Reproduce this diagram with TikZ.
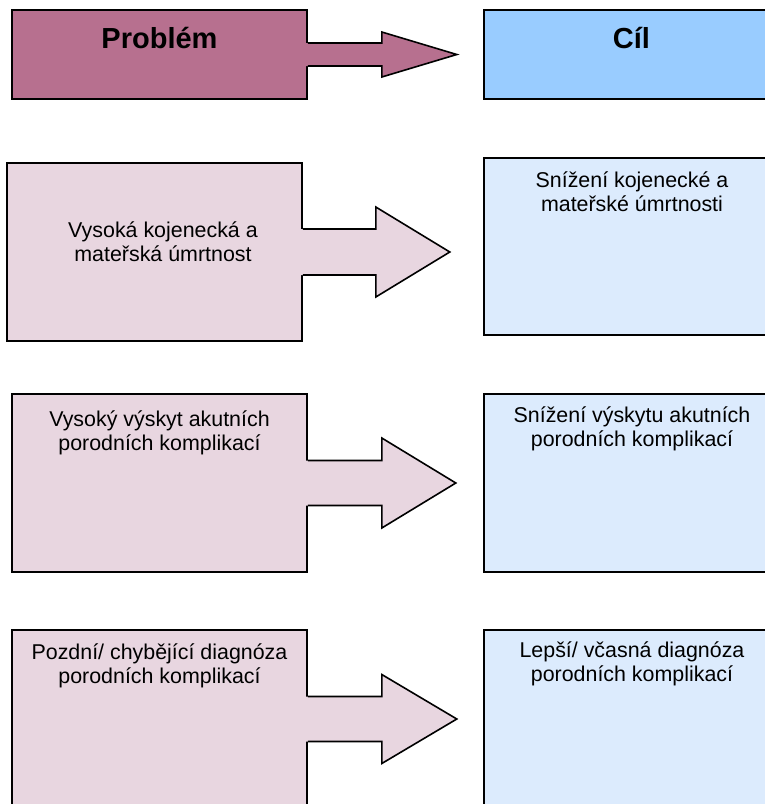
\documentclass[tikz,border=0pt]{standalone}
\usepackage{fontspec}
\setmainfont{Liberation Sans}
\usetikzlibrary{calc}
\definecolor{probhead}{RGB}{183,112,143}
\definecolor{probbody}{RGB}{232,214,224}
\definecolor{goalhead}{RGB}{153,204,255}
\definecolor{goalbody}{RGB}{220,235,253}
\newcommand{\blockarr}[6]{%
  \fill[#2] ($(#1.east)+(-2,-#3)$) -- ++(#5+2,0) -- ++(0,#3-#4) -- ($(#1.east)+(#5+#6,0)$) -- ($(#1.east)+(#5,#4)$) -- ++(0,#3-#4) -- ($(#1.east)+(-2,#3)$) -- cycle;
  \draw[arrline] ($(#1.east)+(0,-#3)$) -- ++(#5,0) -- ++(0,#3-#4) -- ($(#1.east)+(#5+#6,0)$) -- ($(#1.east)+(#5,#4)$) -- ++(0,#3-#4) -- ($(#1.east)+(0,#3)$);
}
\begin{document}
\begin{tikzpicture}[x=1pt,y=-1pt,
  box/.style={draw=black, line width=1.6pt, rectangle, inner sep=0pt, minimum width=295pt},
  arrline/.style={draw=black, line width=1.6pt, line join=miter},
  txt/.style={font=\fontsize{21.4}{24}\selectfont, align=center, anchor=base, inner sep=0pt},
  headtxt/.style={font=\bfseries\fontsize{29}{34}\selectfont, anchor=base, inner sep=0pt}]
\useasboundingbox (0,0) rectangle (765,804);
\clip (0,0) rectangle (765,804);
% boxes
\node[box, fill=probhead, minimum height=89pt] (hp) at (159.5,54.5) {};
\node[box, fill=goalhead, minimum height=89pt] (hc) at (631.5,54.5) {};
\node[box, fill=probbody, minimum height=178pt] (p1) at (154.5,252) {};
\node[box, fill=goalbody, minimum height=177pt] (c1) at (631.5,246.5) {};
\node[box, fill=probbody, minimum height=178pt] (p2) at (159.5,483) {};
\node[box, fill=goalbody, minimum height=178pt] (c2) at (631.5,483) {};
\node[box, fill=probbody, minimum height=178pt] (p3) at (159.5,719) {};
\node[box, fill=goalbody, minimum height=178pt] (c3) at (631.5,719) {};
% block arrows
\blockarr{hp}{probhead}{11.5}{22.5}{74}{75}
\blockarr{p1}{probbody}{23}{45}{73}{74}
\blockarr{p2}{probbody}{22.5}{45}{74}{74}
\blockarr{p3}{probbody}{22.5}{44.5}{74}{75}
% texts (base anchor = baseline of the last line)
\node[headtxt] (thp) at (159.5,48) {Problém};
\node[headtxt] (thc) at (631.5,48) {Cíl};
\node[txt] (t1p) at (163,261) {Vysoká kojenecká a\\mateřská úmrtnost};
\node[txt] (t1c) at (632,211) {Snížení kojenecké a\\mateřské úmrtnosti};
\node[txt] (t2p) at (159.5,450) {Vysoký výskyt akutních\\porodních komplikací};
\node[txt] (t2c) at (632,446) {Snížení výskytu akutních\\porodních komplikací};
\node[txt] (t3p) at (159.5,683) {Pozdní/ chybějící diagnóza\\porodních komplikací};
\node[txt] (t3c) at (632,681) {Lepší/ včasná diagnóza\\porodních komplikací};
\end{tikzpicture}
\end{document}
